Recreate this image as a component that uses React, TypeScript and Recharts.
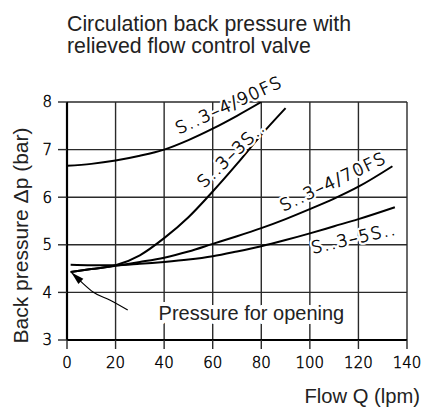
import { LineChart, Line, XAxis, YAxis, CartesianGrid, ReferenceDot } from "recharts";

// axis ticks
const flowTicks = [0, 20, 40, 60, 80, 100, 120, 140];
const pressureTicks = [3, 4, 5, 6, 7, 8];

// S..3-4/90FS
const flow90FS = [0, 10, 20, 30, 40, 50, 60, 70, 80];
const bp90FS = [6.66, 6.7, 6.77, 6.87, 7.0, 7.2, 7.44, 7.71, 8.0];

// S..3-3S..
const flow3S = [1.5, 10, 20, 30, 40, 50, 60, 70, 80, 90];
const bp3S = [4.43, 4.49, 4.57, 4.78, 5.14, 5.58, 6.12, 6.7, 7.31, 7.87];

// S..3-4/70FS
const flow70FS = [1.5, 10, 20, 30, 40, 50, 60, 70, 80, 90, 100, 110, 120, 134];
const bp70FS = [4.43, 4.49, 4.56, 4.64, 4.73, 4.86, 5.02, 5.18, 5.35, 5.54, 5.75, 5.97, 6.22, 6.65];

// S..3-5S..
const flow5S = [1.5, 10, 20, 30, 40, 50, 60, 70, 80, 90, 100, 110, 120, 135];
const bp5S = [4.58, 4.57, 4.57, 4.6, 4.64, 4.69, 4.76, 4.86, 4.97, 5.1, 5.24, 5.39, 5.54, 5.79];

// "Pressure for opening" pointer
const arrowFlow = [1.8, 5.9, 10.7, 17.6, 25];
const arrowBp = [4.42, 4.22, 4.01, 3.84, 3.63];

const curveTags = [
    { name: "S..3–4/90FS", q: 66.6, p: 7.94, angle: -24.8 },
    { name: "S..3–3S..", q: 67.6, p: 6.9, angle: -44 },
    { name: "S..3–4/70FS", q: 109.5, p: 6.33, angle: -25.4 },
    { name: "S..3–5S..", q: 118.1, p: 5.14, angle: -13 },
];

const toPoints = (xs: number[], ys: number[]) => xs.map((q, i) => ({ q, p: ys[i] }));

const curves = [
    toPoints(flow90FS, bp90FS),
    toPoints(flow3S, bp3S),
    toPoints(flow70FS, bp70FS),
    toPoints(flow5S, bp5S),
];

// thin "drafting" look: extra light face with a hairline outline
const isoFont = {
    fontFamily: "DejaVu Sans",
    fontWeight: 200,
    fontSize: 15,
    fill: "#000",
    stroke: "#000",
    strokeWidth: 0.45,
};
const sans = "Liberation Sans, Arial, sans-serif";

const IsoTag = ({ viewBox, text, angle }: any) => {
    const cx = viewBox.x + (viewBox.width || 0) / 2;
    const cy = viewBox.y + (viewBox.height || 0) / 2;
    const common = {
        x: cx,
        y: cy,
        transform: `rotate(${angle} ${cx} ${cy})`,
        textAnchor: "middle" as const,
        dominantBaseline: "central" as const,
        fontFamily: "DejaVu Sans",
        fontWeight: 200,
        fontSize: 17,
        letterSpacing: 1.5,
    };
    return (
        <g>
            <text {...common} fill="#fff" stroke="#fff" strokeWidth={5} strokeLinejoin="round">
                {text}
            </text>
            <text {...common} fill="#000" stroke="#000" strokeWidth={0.5}>
                {text}
            </text>
        </g>
    );
};

const NoteText = ({ viewBox }: any) => (
    <g>
        <text x={viewBox.x} y={viewBox.y} fontFamily={sans} fontSize={20} fill="#fff" stroke="#fff" strokeWidth={8} strokeLinejoin="round">
            Pressure for opening
        </text>
        <text x={viewBox.x} y={viewBox.y} fontFamily={sans} fontSize={20} fill="#222">
            Pressure for opening
        </text>
    </g>
);

const ArrowHead = (props: any) => {
    const { cx, cy, index } = props;
    if (index !== 0) return <g key={`a${index}`} />;
    return (
        <polygon
            key="tip"
            points="0,0 13,-3.6 13,3.6"
            transform={`translate(${cx} ${cy}) rotate(43)`}
            fill="#000"
        />
    );
};

export default function App() {
    return (
        <div style={{ position: "absolute", left: 0, top: 0, width: 422, height: 407, background: "#fff" }}>
            <LineChart width={422} height={407} margin={{ top: 102, right: 15, left: 0, bottom: 0 }}>
                <CartesianGrid stroke="#2a2a2a" strokeWidth={1.4} />
                <XAxis
                    type="number"
                    dataKey="q"
                    domain={[0, 140]}
                    ticks={flowTicks}
                    interval={0}
                    allowDataOverflow
                    height={67}
                    tickSize={9}
                    tickMargin={8}
                    axisLine={{ stroke: "#000", strokeWidth: 2.2 }}
                    tickLine={{ stroke: "#2a2a2a", strokeWidth: 1.4 }}
                    tick={isoFont}
                />
                <YAxis
                    type="number"
                    dataKey="p"
                    domain={[3, 8]}
                    ticks={pressureTicks}
                    interval={0}
                    allowDataOverflow
                    width={67}
                    tickSize={9}
                    tickMargin={6}
                    axisLine={{ stroke: "#000", strokeWidth: 2.2 }}
                    tickLine={{ stroke: "#2a2a2a", strokeWidth: 1.4 }}
                    tick={isoFont}
                />
                {curves.map((d, i) => (
                    <Line
                        key={i}
                        data={d}
                        dataKey="p"
                        type="monotone"
                        stroke="#000"
                        strokeWidth={2}
                        dot={false}
                        activeDot={false}
                        isAnimationActive={false}
                    />
                ))}
                <Line
                    data={toPoints(arrowFlow, arrowBp)}
                    dataKey="p"
                    type="monotone"
                    stroke="#000"
                    strokeWidth={1.2}
                    dot={ArrowHead}
                    activeDot={false}
                    isAnimationActive={false}
                />
                {curveTags.map((t) => (
                    <ReferenceDot
                        key={t.name}
                        x={t.q}
                        y={t.p}
                        r={0}
                        fill="none"
                        stroke="none"
                        ifOverflow="visible"
                        label={(props: any) => <IsoTag {...props} text={t.name} angle={t.angle} />}
                    />
                ))}
                <ReferenceDot
                    x={37.7}
                    y={3.42}
                    r={0}
                    fill="none"
                    stroke="none"
                    label={(props: any) => <NoteText {...props} />}
                />
            </LineChart>
            <svg
                width={422}
                height={407}
                style={{ position: "absolute", left: 0, top: 0, pointerEvents: "none" }}
            >
                <text x={67} y={30.7} fontFamily={sans} fontSize={21.3} fill="#222">
                    Circulation back pressure with
                </text>
                <text x={67} y={53.3} fontFamily={sans} fontSize={21.3} fill="#222">
                    relieved flow control valve
                </text>
                <text
                    x={28.3}
                    y={235.5}
                    transform="rotate(-90 28.3 235.5)"
                    textAnchor="middle"
                    fontFamily={sans}
                    fontSize={21}
                    fill="#222"
                >
                    Back pressure Δp (bar)
                </text>
                <text x={420} y={403.3} textAnchor="end" fontFamily={sans} fontSize={20.2} fill="#222">
                    Flow Q (lpm)
                </text>
            </svg>
        </div>
    );
}
